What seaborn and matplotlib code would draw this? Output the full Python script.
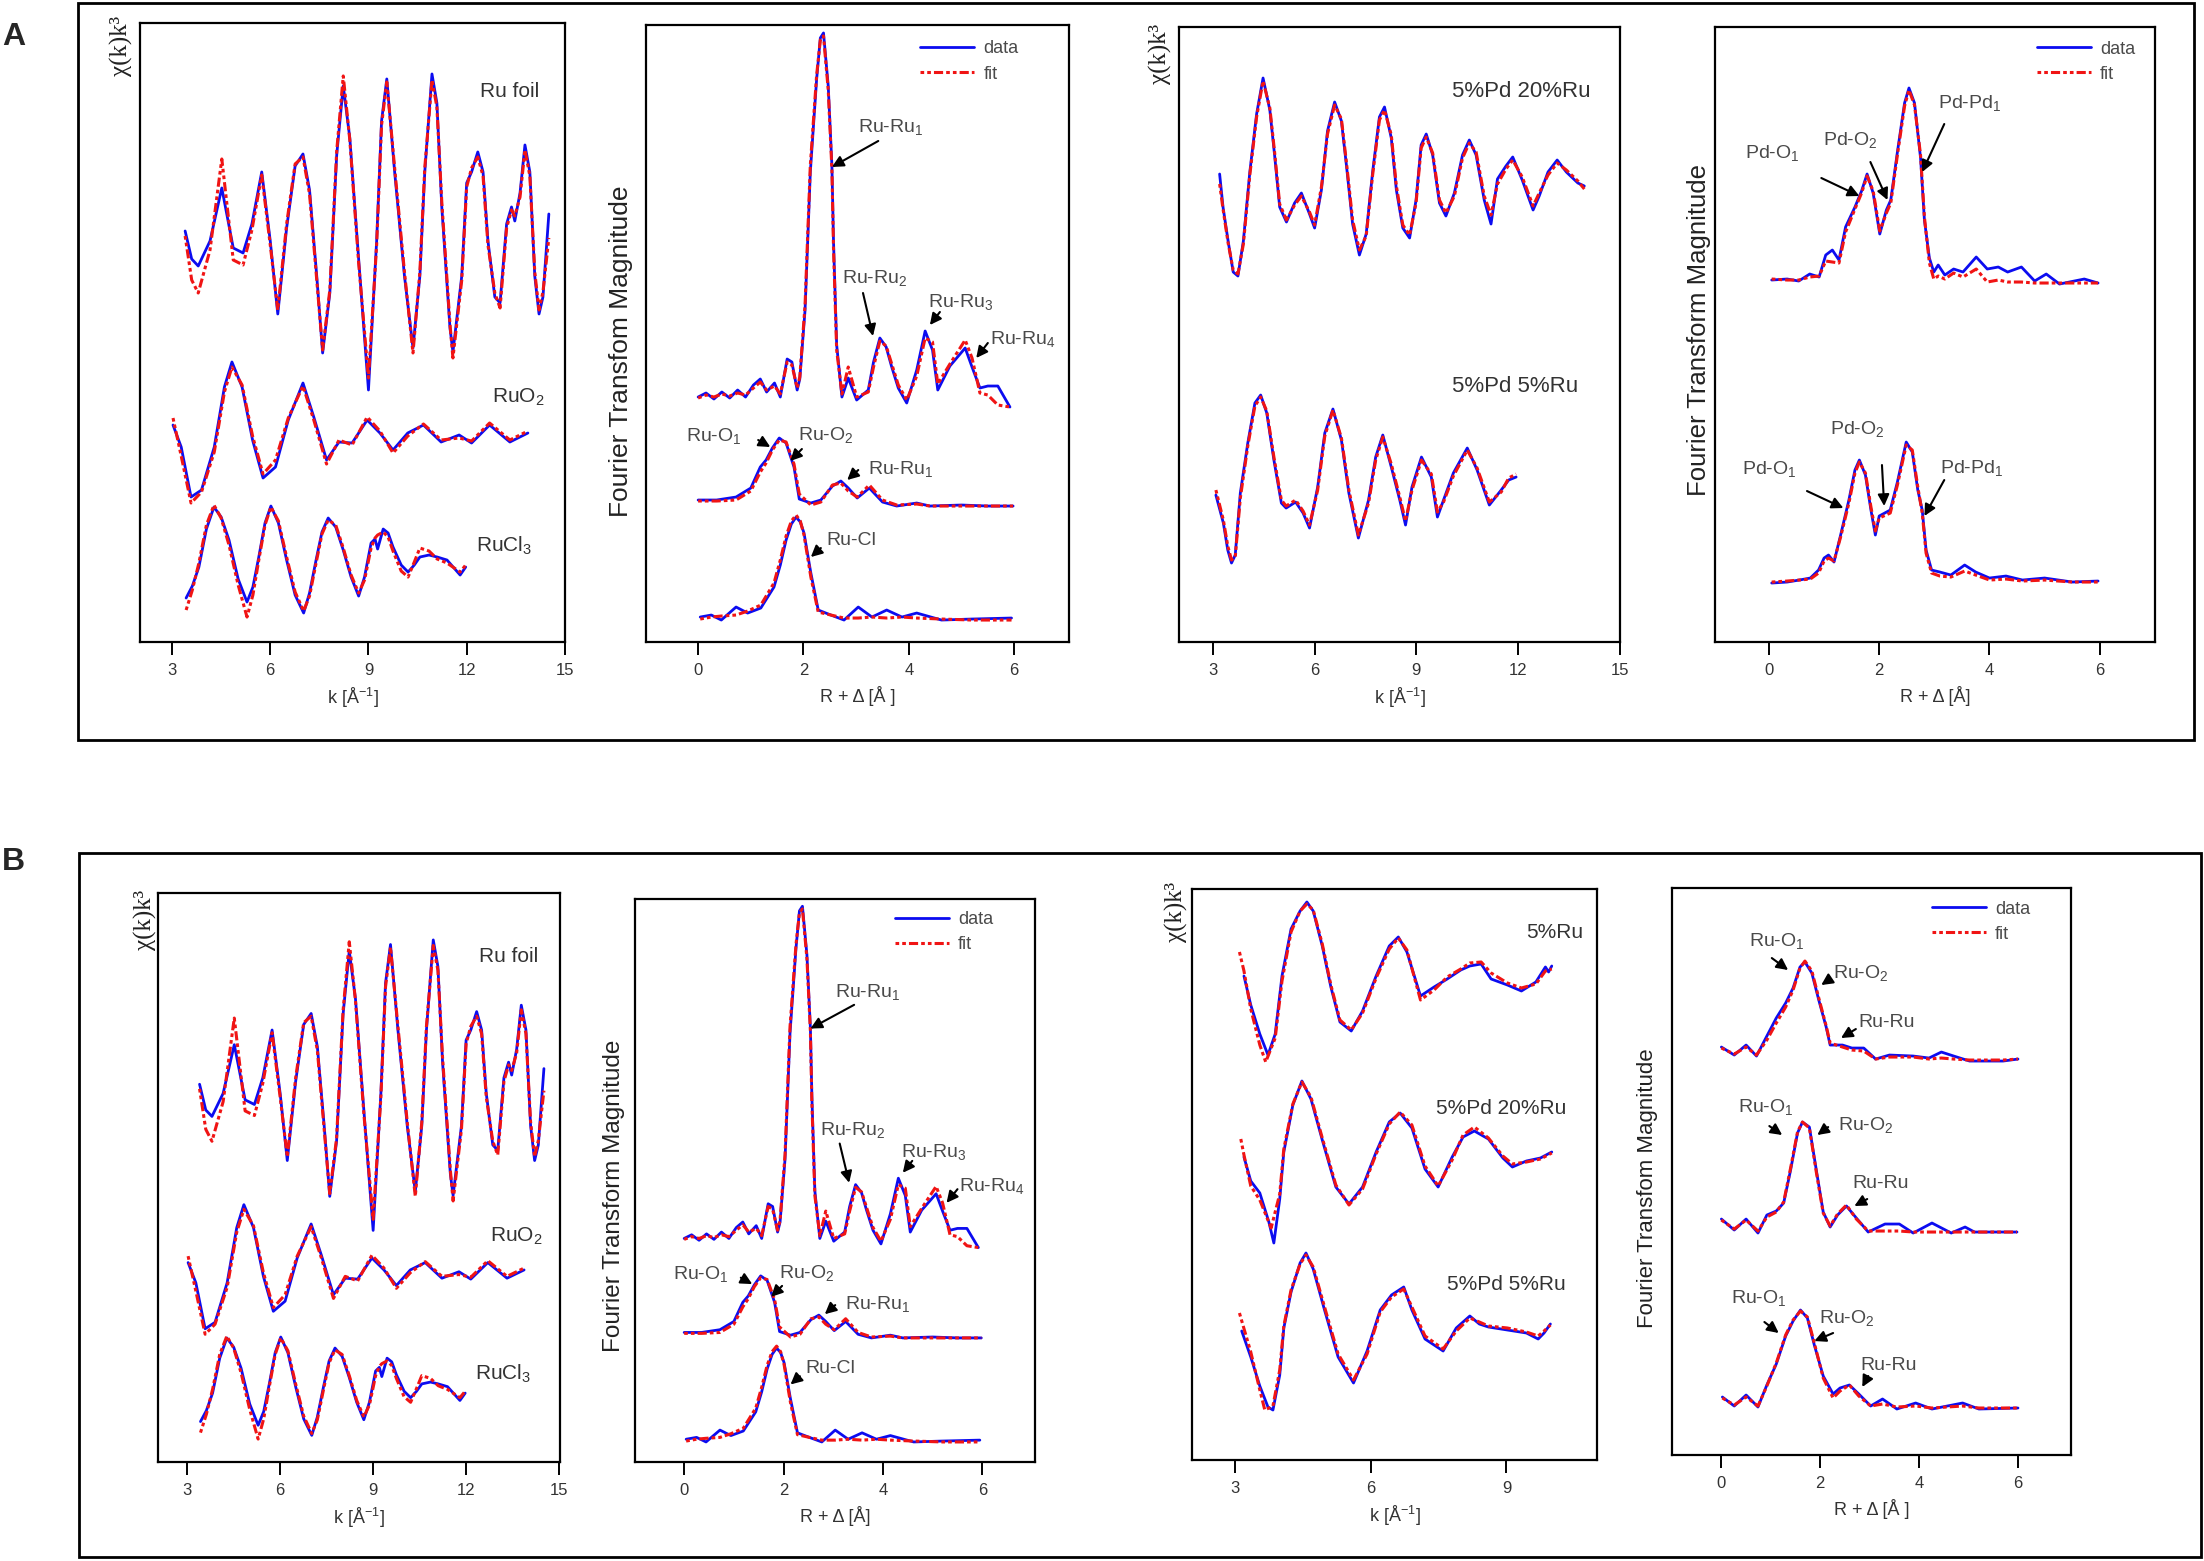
import matplotlib
matplotlib.use("Agg")
import matplotlib.pyplot as plt
from matplotlib.lines import Line2D
from matplotlib.patches import Rectangle
import pandas as pd
import seaborn as sns

# ---------------- Ru K-edge references, k space (chi(k)k^3, arb. units) ----------------
K_FOIL = [3.40, 3.60, 3.80, 4.16, 4.52, 4.87, 5.17, 5.44, 5.74, 6.00, 6.23, 6.50, 6.76, 7.00,
          7.20, 7.42, 7.60, 7.82, 8.03, 8.23, 8.43, 8.70, 9.00, 9.25, 9.40, 9.56, 9.80, 10.10,
          10.36, 10.57, 10.72, 10.94, 11.09, 11.24, 11.49, 11.58, 11.85, 12.00, 12.15, 12.34,
          12.50, 12.65, 12.86, 13.02, 13.22, 13.37, 13.47, 13.63, 13.78, 13.93, 14.08, 14.21,
          14.33, 14.51]
CHI_FOIL = [-0.1, -2.9, -3.6, -1.1, 4.2, -1.8, -2.3, 0.6, 5.8, -1.1, -8.4, 0.2, 6.4, 7.6,
            4.0, -4.6, -12.3, -6.3, 7.5, 14.4, 9.2, -2.9, -16.0, -1.1, 10.9, 15.1, 5.8, -4.6,
            -11.8, -4.6, 5.8, 15.6, 12.7, 2.3, -9.8, -12.2, -4.6, 4.7, 5.8, 7.8,
            5.8, -1.1, -6.7, -7.3, 0.6, 2.3, 0.9, 3.7, 8.5, 5.8, -4.6, -8.4, -6.7, 1.6]
CHI_FOIL_FIT = [-0.6, -5.0, -6.3, -2.0, 7.1, -3.0, -3.5, 0.0, 5.5, -1.5, -8.0, 0.6, 6.6, 7.3,
                3.6, -5.0, -12.0, -6.0, 7.9, 15.4, 9.0, -3.3, -14.8, -1.5, 10.5, 14.8, 6.2, -4.2,
                -12.3, -4.2, 6.2, 15.0, 12.3, 2.8, -9.4, -12.8, -5.0, 4.3, 6.2, 7.3,
                5.4, -1.5, -6.3, -7.8, 0.2, 2.0, 1.4, 3.3, 8.0, 5.4, -4.2, -8.0, -6.2, -0.8]

K_RUO2 = [3.03, 3.28, 3.58, 3.90, 4.29, 4.60, 4.83, 5.14, 5.46, 5.78, 6.16, 6.55, 7.00, 7.33,
          7.72, 8.10, 8.50, 8.96, 9.35, 9.75, 10.20, 10.68, 11.22, 11.77, 12.15, 12.70, 13.32, 13.87]
CHI_RUO2 = [0.5, -1.7, -6.7, -6.0, -1.7, 4.3, 6.8, 4.3, -1.0, -4.8, -3.7, 1.0, 4.7, 1.3,
            -3.0, -1.2, -1.3, 1.0, -0.3, -2.0, -0.3, 0.5, -1.2, -0.5, -1.3, 0.5, -1.2, -0.3]
CHI_RUO2_FIT = [1.2, -2.6, -7.3, -6.2, -2.2, 3.8, 6.3, 4.5, -0.6, -4.4, -3.0, 1.2, 4.4, 1.0,
                -3.4, -1.0, -1.5, 1.3, -0.1, -2.3, -0.6, 0.6, -1.0, -0.8, -1.1, 0.7, -1.0, -0.1]

K_RUCL = [3.43, 3.62, 3.82, 4.05, 4.28, 4.50, 4.74, 5.02, 5.29, 5.47, 5.65, 5.84, 6.02, 6.25,
          6.50, 6.76, 7.02, 7.20, 7.40, 7.58, 7.77, 8.00, 8.23, 8.47, 8.70, 8.88, 9.08, 9.20,
          9.28, 9.45, 9.60, 9.75, 10.00, 10.21, 10.40, 10.57, 10.85, 11.10, 11.40, 11.80, 11.97]
CHI_RUCL = [-4.1, -2.9, -1.0, 2.8, 5.0, 4.0, 1.7, -2.2, -4.5, -3.0, 0.0, 3.4, 5.1, 3.4,
            -0.3, -3.8, -5.6, -3.6, -0.3, 2.5, 3.9, 3.0, 0.7, -2.0, -3.9, -2.0, 1.4, 1.8,
            0.8, 2.8, 2.4, 1.0, -0.8, -1.5, -0.8, 0.0, 0.2, 0.0, -0.3, -1.8, -1.0]
CHI_RUCL_FIT = [-5.3, -3.3, -0.6, 3.2, 5.2, 3.9, 1.2, -2.8, -6.0, -3.8, -0.3, 3.2, 5.0, 3.6,
                0.0, -3.5, -5.4, -3.9, -0.6, 2.3, 3.7, 3.2, 0.9, -1.8, -3.6, -2.3, 0.9, 1.9,
                2.2, 2.5, 2.0, 0.6, -1.4, -2.0, -0.5, 0.9, 0.6, -0.2, -0.6, -1.5, -0.8]

# ---------------- Ru K-edge references, R space (FT magnitude) ----------------
R_FOIL = [0.00, 0.15, 0.30, 0.45, 0.60, 0.75, 0.90, 1.05, 1.18, 1.30, 1.45, 1.56, 1.69, 1.78,
          1.88, 1.93, 2.03, 2.13, 2.25, 2.32, 2.38, 2.47, 2.54, 2.57, 2.63, 2.73, 2.85, 3.01,
          3.23, 3.33, 3.45, 3.57, 3.67, 3.80, 3.96, 4.15, 4.31, 4.45, 4.55, 4.78, 5.07, 5.20,
          5.35, 5.50, 5.69, 5.92]
FT_FOIL = [0.3, 0.7, 0.1, 0.8, 0.2, 1.0, 0.3, 1.5, 2.1, 0.8, 1.7, 0.3, 4.1, 3.8,
           1.0, 2.1, 9.0, 22.8, 32.1, 36.2, 36.7, 31.4, 23.4, 15.9, 5.5, 0.3, 2.2, 0.0,
           1.0, 3.8, 6.2, 5.3, 3.4, 1.2, -0.3, 3.0, 6.9, 5.0, 1.0, 3.4, 5.2, 3.3,
           1.2, 1.4, 1.4, -0.7]
FT_FOIL_FIT = [0.2, 0.5, 0.3, 0.6, 0.4, 0.7, 0.5, 1.2, 1.8, 1.0, 1.4, 0.6, 3.8, 3.5,
               1.2, 2.3, 9.5, 23.5, 32.5, 36.0, 36.4, 31.0, 23.0, 15.2, 5.0, 0.6, 3.3, 0.3,
               0.8, 3.3, 5.9, 5.4, 3.7, 1.5, 0.0, 2.4, 6.2, 5.8, 1.6, 3.6, 6.0, 4.2,
               0.7, 0.5, -0.5, -0.7]

R_RUO2 = [0.00, 0.35, 0.72, 1.00, 1.18, 1.29, 1.41, 1.54, 1.67, 1.82, 1.92, 2.14, 2.33, 2.55,
          2.71, 2.85, 3.02, 3.25, 3.50, 3.77, 4.15, 4.40, 5.00, 5.50, 5.98]
FT_RUO2 = [0.6, 0.6, 0.9, 1.8, 3.9, 4.6, 5.8, 6.8, 6.3, 3.9, 0.7, 0.3, 0.6, 2.0,
           2.5, 1.8, 0.8, 1.8, 0.4, 0.0, 0.3, 0.0, 0.1, 0.0, 0.0]
FT_RUO2_FIT = [0.5, 0.5, 0.6, 1.5, 3.4, 4.3, 5.6, 6.6, 6.4, 4.2, 1.2, 0.1, 0.4, 2.1,
               2.3, 1.5, 0.9, 2.1, 0.6, 0.1, 0.2, 0.0, 0.0, 0.0, 0.0]

R_RUCL = [0.04, 0.25, 0.44, 0.72, 0.94, 1.19, 1.44, 1.56, 1.67, 1.77, 1.86, 1.94, 2.01, 2.14,
          2.28, 2.52, 2.77, 3.04, 3.30, 3.58, 3.87, 4.15, 4.62, 5.20, 5.95]
FT_RUCL = [0.3, 0.5, 0.0, 1.3, 0.7, 1.2, 3.3, 5.5, 8.0, 9.6, 10.3, 9.8, 8.7, 4.7,
           1.0, 0.5, 0.0, 1.3, 0.3, 1.0, 0.3, 0.7, 0.0, 0.1, 0.2]
FT_RUCL_FIT = [0.1, 0.3, 0.4, 0.5, 0.9, 1.5, 3.7, 6.0, 8.4, 9.9, 10.5, 9.9, 8.5, 4.3,
               0.8, 0.5, 0.2, 0.2, 0.3, 0.2, 0.3, 0.2, 0.1, 0.0, 0.0]

# ---------------- Pd K-edge, catalysts (panel A, right) ----------------
K_PD20 = [3.20, 3.30, 3.45, 3.60, 3.74, 3.90, 4.09, 4.29, 4.48, 4.68, 4.82, 4.97, 5.17, 5.41,
          5.61, 5.85, 6.00, 6.20, 6.38, 6.59, 6.79, 6.94, 7.12, 7.32, 7.52, 7.71, 7.91, 8.06,
          8.26, 8.41, 8.60, 8.80, 8.99, 9.14, 9.29, 9.48, 9.68, 9.87, 10.12, 10.36, 10.56,
          10.76, 11.00, 11.20, 11.39, 11.64, 11.84, 12.12, 12.44, 12.62, 12.88, 13.15, 13.42,
          13.76, 13.95]
CHI_PD20 = [1.6, -1.7, -5.1, -8.2, -8.6, -5.1, 1.8, 7.6, 11.2, 8.0, 3.5, -1.7, -3.2, -1.3,
            -0.3, -2.4, -3.8, 0.0, 5.9, 8.8, 6.9, 2.4, -3.4, -6.5, -4.4, 1.8, 7.3, 8.3,
            5.2, 0.0, -3.8, -4.8, -1.0, 4.5, 5.6, 3.5, -1.3, -2.6, -0.3, 3.5, 5.0,
            3.5, -1.0, -3.4, 1.1, 2.4, 3.3, 1.0, -2.0, -0.6, 1.8, 3.0, 1.8, 0.7, 0.4]
CHI_PD20_FIT = [0.6, -1.9, -5.3, -8.0, -8.4, -5.4, 1.5, 7.3, 10.9, 8.2, 3.8, -1.4, -3.0, -1.5,
                -0.6, -2.2, -3.5, 0.3, 5.6, 8.5, 7.1, 2.7, -3.0, -6.0, -4.6, 1.5, 7.0, 8.0,
                5.5, 0.4, -3.5, -4.5, -1.3, 4.2, 5.3, 3.7, -1.0, -2.3, -0.6, 3.2, 4.7,
                3.8, -0.6, -2.5, 0.6, 2.1, 3.0, 1.3, -1.6, -0.3, 1.5, 2.7, 2.0, 0.9, 0.1]

K_PD5 = [3.09, 3.31, 3.44, 3.55, 3.66, 3.81, 4.03, 4.24, 4.41, 4.59, 4.80, 5.02, 5.16, 5.44,
         5.66, 5.85, 6.09, 6.30, 6.54, 6.79, 7.01, 7.29, 7.59, 7.80, 8.01, 8.26, 8.51, 8.68,
         8.87, 9.15, 9.44, 9.62, 9.80, 10.09, 10.50, 10.79, 11.15, 11.50, 11.72, 11.94]
CHI_PD5 = [-1.5, -4.3, -7.0, -8.3, -7.5, -1.3, 3.7, 7.7, 8.5, 6.7, 2.0, -2.3, -2.8, -2.2,
           -3.3, -4.8, -0.7, 4.7, 7.1, 4.0, -1.3, -5.8, -2.0, 2.3, 4.5, 1.3, -2.0, -4.5,
           -0.7, 2.3, 0.3, -3.7, -2.0, 0.7, 3.2, 1.0, -2.5, -1.0, 0.0, 0.3]
CHI_PD5_FIT = [-1.0, -4.0, -6.6, -8.0, -7.7, -1.8, 3.4, 7.4, 8.3, 6.9, 2.3, -2.0, -2.6, -2.0,
               -3.1, -4.5, -1.0, 4.4, 7.0, 4.2, -1.0, -5.5, -2.3, 2.0, 4.3, 1.6, -1.7, -4.1,
               -1.0, 2.0, 0.6, -3.2, -2.2, 0.4, 3.0, 1.2, -2.2, -1.2, 0.2, 0.6]

R_PD20 = [0.05, 0.33, 0.54, 0.74, 0.91, 1.03, 1.15, 1.27, 1.39, 1.56, 1.68, 1.78, 1.89, 2.01,
          2.13, 2.21, 2.33, 2.46, 2.54, 2.64, 2.75, 2.82, 2.91, 2.99, 3.07, 3.19, 3.35, 3.52,
          3.76, 3.96, 4.16, 4.33, 4.58, 4.82, 5.03, 5.27, 5.72, 5.97]
FT_PD20 = [0.3, 0.4, 0.2, 0.9, 0.6, 2.8, 3.3, 2.3, 5.6, 7.6, 9.2, 10.9, 9.0, 4.9,
           7.3, 8.3, 13.1, 18.0, 19.5, 18.0, 12.5, 6.3, 2.5, 1.1, 1.8, 0.8, 1.4, 1.1,
           2.6, 1.4, 1.6, 1.1, 1.6, 0.2, 0.9, -0.1, 0.4, 0.0]
FT_PD20_FIT = [0.4, 0.3, 0.3, 0.6, 0.7, 2.2, 2.1, 2.0, 5.1, 7.4, 9.0, 10.7, 9.2, 5.2,
               7.0, 8.0, 12.8, 17.7, 19.3, 17.8, 12.8, 6.6, 2.0, 0.4, 0.7, 0.4, 1.0, 0.6,
               1.4, 0.1, 0.3, 0.1, 0.1, 0.0, 0.0, 0.0, 0.0, 0.0]

R_PD5 = [0.05, 0.33, 0.55, 0.75, 0.90, 1.00, 1.08, 1.18, 1.30, 1.45, 1.56, 1.64, 1.75, 1.85,
         1.93, 2.00, 2.20, 2.33, 2.49, 2.60, 2.70, 2.78, 2.85, 2.95, 3.10, 3.30, 3.55, 3.75,
         4.00, 4.30, 4.60, 5.00, 5.50, 5.97]
FT_PD5 = [0.0, 0.1, 0.3, 0.5, 1.3, 2.5, 2.8, 2.1, 4.8, 8.3, 11.3, 12.3, 10.8, 7.3,
          4.8, 6.7, 7.3, 10.1, 14.1, 13.1, 9.3, 7.3, 3.3, 1.3, 1.1, 0.8, 1.8, 1.1,
          0.5, 0.7, 0.3, 0.5, 0.1, 0.2]
FT_PD5_FIT = [0.1, 0.2, 0.3, 0.4, 1.0, 2.2, 2.5, 2.2, 4.6, 8.0, 11.0, 12.1, 11.0, 7.6,
              5.2, 6.5, 7.0, 9.8, 13.8, 13.3, 9.6, 7.0, 3.0, 1.0, 0.7, 0.6, 1.2, 0.8,
              0.3, 0.4, 0.2, 0.3, 0.1, 0.1]

# ---------------- Ru K-edge, catalysts (panel B, right) ----------------
K_B_RU = [3.20, 3.35, 3.55, 3.73, 3.89, 4.04, 4.24, 4.44, 4.59, 4.73, 4.93, 5.12, 5.32, 5.57,
          5.82, 6.12, 6.41, 6.61, 6.80, 7.10, 7.40, 7.69, 7.99, 8.19, 8.44, 8.66, 9.02, 9.33,
          9.65, 9.86, 9.93, 10.00]
CHI_B_RU = [-0.1, -3.0, -5.9, -8.0, -5.9, -0.1, 4.6, 6.4, 7.3, 6.4, 2.9, -1.2, -4.7, -5.6,
            -3.6, -0.1, 2.9, 3.8, 2.3, -2.1, -1.2, -0.4, 0.5, 0.9, 1.1, -0.4, -1.0, -1.6,
            -0.7, 0.8, 0.3, 0.9]
K_B_RU_FIT = [3.10, 3.20, 3.35, 3.55, 3.68, 3.89, 4.04, 4.24, 4.44, 4.59, 4.73, 4.93, 5.12, 5.32,
              5.57, 5.82, 6.12, 6.41, 6.61, 6.80, 7.10, 7.40, 7.69, 7.99, 8.19, 8.44, 8.66, 9.02,
              9.33, 9.65, 9.86, 10.00]
CHI_B_RU_FIT = [2.3, 0.4, -3.4, -7.0, -8.7, -6.3, -0.6, 4.3, 6.4, 7.1, 6.5, 3.1, -1.0, -4.5,
                -5.5, -3.8, -0.3, 2.6, 3.7, 2.5, -2.5, -1.5, -0.2, 0.6, 1.2, 1.3, 0.2, -0.8,
                -1.3, -0.9, 0.4, 0.6]

K_B_PD20 = [3.20, 3.35, 3.55, 3.75, 3.86, 3.99, 4.08, 4.28, 4.48, 4.68, 4.93, 5.23, 5.52, 5.82,
            6.12, 6.41, 6.65, 6.91, 7.20, 7.49, 7.80, 8.04, 8.29, 8.60, 8.92, 9.13, 9.44, 9.75,
            10.00]
CHI_B_PD20 = [-0.7, -3.1, -4.3, -7.2, -9.3, -4.9, -0.2, 4.5, 6.9, 5.1, 1.0, -3.7, -5.4, -3.7,
              -0.2, 2.8, 3.7, 2.2, -1.9, -3.7, -0.7, 1.3, 1.9, 1.1, -0.8, -1.7, -1.1, -0.8,
              -0.2]
K_B_PD20_FIT = [3.13, 3.20, 3.35, 3.55, 3.80, 3.99, 4.08, 4.28, 4.48, 4.68, 4.93, 5.23, 5.52,
                5.82, 6.12, 6.41, 6.65, 6.91, 7.20, 7.49, 7.80, 8.04, 8.29, 8.60, 8.92, 9.13,
                9.44, 9.75, 10.00]
CHI_B_PD20_FIT = [1.1, -0.5, -3.6, -5.0, -7.8, -4.4, 0.1, 4.6, 6.8, 5.3, 1.2, -3.5, -5.5,
                  -3.9, -0.4, 2.6, 3.8, 2.5, -1.6, -3.6, -1.0, 1.5, 2.3, 1.2, -0.6, -1.4,
                  -1.2, -0.9, -0.3]

K_B_PD5 = [3.15, 3.35, 3.55, 3.73, 3.84, 3.99, 4.08, 4.24, 4.44, 4.57, 4.73, 4.98, 5.28, 5.62,
           5.92, 6.21, 6.46, 6.73, 6.91, 7.20, 7.60, 7.89, 8.19, 8.40, 8.60, 9.02, 9.44, 9.70,
           9.83, 9.97]
CHI_B_PD5 = [-0.1, -2.7, -5.6, -7.7, -8.0, -4.5, 0.2, 3.8, 6.7, 7.7, 6.1, 2.0, -2.7, -5.3,
             -2.1, 2.0, 3.5, 4.3, 2.0, -0.9, -2.1, 0.2, 1.4, 0.6, 0.3, 0.0, -0.3, -0.9,
             -0.3, 0.6]
K_B_PD5_FIT = [3.10, 3.35, 3.55, 3.66, 3.84, 3.99, 4.08, 4.24, 4.44, 4.57, 4.73, 4.98, 5.28,
               5.62, 5.92, 6.21, 6.46, 6.73, 6.91, 7.20, 7.60, 7.89, 8.19, 8.40, 8.60, 9.02,
               9.44, 9.70, 9.83, 9.97]
CHI_B_PD5_FIT = [1.7, -2.2, -6.0, -8.0, -7.6, -4.0, 0.4, 4.0, 6.6, 7.5, 6.3, 2.3, -2.4, -5.0,
                 -2.4, 1.8, 3.3, 4.1, 2.3, -0.6, -1.9, -0.1, 1.2, 0.8, 0.4, 0.2, -0.2, -0.6,
                 -0.1, 0.5]

R_B_RU = [0.00, 0.26, 0.50, 0.71, 0.92, 1.11, 1.30, 1.45, 1.59, 1.69, 1.83, 1.97, 2.12, 2.20,
          2.45, 2.64, 2.88, 3.12, 3.40, 3.88, 4.20, 4.45, 4.70, 5.02, 5.70, 6.00]
FT_B_RU = [1.3, 0.5, 1.5, 0.4, 2.4, 4.2, 5.7, 7.2, 9.3, 9.8, 8.7, 6.0, 3.3, 1.5,
           1.5, 1.2, 1.2, 0.1, 0.5, 0.4, 0.2, 0.8, 0.4, -0.1, -0.1, 0.1]
FT_B_RU_FIT = [1.2, 0.6, 1.3, 0.5, 2.0, 3.7, 5.3, 7.0, 9.2, 9.9, 8.9, 6.2, 3.4, 1.7,
               1.3, 1.0, 0.9, 0.1, 0.3, 0.3, 0.1, 0.2, 0.1, 0.0, 0.0, 0.1]

R_B_PD20 = [0.00, 0.26, 0.50, 0.74, 0.92, 1.11, 1.26, 1.40, 1.54, 1.64, 1.78, 1.92, 2.06, 2.20,
            2.35, 2.53, 2.73, 2.97, 3.31, 3.60, 3.88, 4.26, 4.65, 4.93, 5.12, 5.98]
FT_B_PD20 = [1.3, 0.2, 1.3, -0.1, 1.7, 2.1, 2.9, 6.2, 9.9, 11.0, 10.5, 6.2, 2.0, 0.5,
             1.7, 2.6, 1.4, 0.0, 0.8, 0.8, -0.1, 0.9, -0.1, 0.5, 0.0, 0.0]
FT_B_PD20_FIT = [1.2, 0.3, 1.2, 0.1, 1.5, 2.0, 3.0, 6.4, 10.0, 11.0, 10.4, 6.0, 1.9, 0.6,
                 1.8, 2.7, 1.3, 0.1, 0.1, 0.1, 0.0, 0.0, 0.0, 0.0, 0.0, 0.0]

R_B_PD5 = [0.02, 0.26, 0.50, 0.74, 0.92, 1.11, 1.30, 1.45, 1.60, 1.74, 1.88, 2.06, 2.26, 2.40,
           2.59, 2.78, 3.02, 3.26, 3.55, 3.93, 4.26, 4.88, 5.21, 6.00]
FT_B_PD5 = [1.1, 0.2, 1.3, 0.1, 2.3, 4.4, 7.2, 8.7, 9.8, 9.0, 6.3, 3.2, 1.4, 2.0,
            2.3, 1.4, 0.2, 0.9, -0.1, 0.5, -0.1, 0.5, -0.1, 0.0]
FT_B_PD5_FIT = [1.0, 0.3, 1.1, 0.2, 2.2, 4.5, 7.3, 8.8, 9.7, 9.1, 6.5, 3.0, 1.0, 1.7,
                2.3, 1.2, 0.2, 0.4, 0.1, 0.2, 0.0, 0.2, 0.0, 0.0]

K_TICKS = [3, 6, 9, 12, 15]
K_TICKS_SHORT = [3, 6, 9]
R_TICKS = [0, 2, 4, 6]

# ---------------------------------------------------------------------------
sns.set_style("white")
plt.rcParams["font.family"] = ["Liberation Sans", "DejaVu Sans"]
plt.rcParams["mathtext.fontset"] = "custom"
plt.rcParams["mathtext.rm"] = "Liberation Sans"
plt.rcParams["mathtext.it"] = "Liberation Sans:italic"

DATA_C = "#0c0cf0"
FIT_C = "#f01414"
FIT_LS = (0, (1.2, 1.0, 1.2, 1.0, 3.0, 1.0))
TXT_C = "#4a4a4a"

fig = plt.figure(figsize=(22.04, 15.61), dpi=100)


def draw_panel(rect, xlim, ylim, ticks, curves, xlabel):
    ax = fig.add_axes(rect)
    for x, y, xf, yf, off in curves:
        d = pd.DataFrame({"x": x, "y": [v + off for v in y]})
        f = pd.DataFrame({"x": xf, "y": [v + off for v in yf]})
        sns.lineplot(data=d, x="x", y="y", ax=ax, color=DATA_C, linewidth=2.0,
                     sort=False, estimator=None, legend=False)
        sns.lineplot(data=f, x="x", y="y", ax=ax, color=FIT_C, linewidth=2.2,
                     linestyle=FIT_LS, sort=False, estimator=None, legend=False)
    ax.set_xlim(*xlim)
    ax.set_ylim(*ylim)
    ax.set_xticks(ticks)
    ax.set_yticks([])
    ax.set_ylabel("")
    ax.set_xlabel(xlabel, fontsize=13, color="#333333", labelpad=6)
    for s in ax.spines.values():
        s.set_visible(True)
        s.set_color("black")
        s.set_linewidth(1.6)
    ax.tick_params(axis="x", bottom=True, direction="out", length=9, width=1.4, pad=6,
                   labelsize=12, labelcolor="#333333", color="black")
    ax.tick_params(axis="y", left=False, labelleft=False)
    return ax


def chi_label(ax, x, y):
    ax.text(x, y, "χ(k)k³", transform=ax.transAxes, rotation=90, ha="right", va="top",
            fontsize=18, family=["Liberation Serif", "DejaVu Serif"], color="#222222")


def ft_label(ax, x, y, text, size, family=("Liberation Sans", "DejaVu Sans")):
    ax.text(x, y, text, transform=ax.transAxes, rotation=90, ha="right", va="center",
            fontsize=size, family=list(family), color="#222222")


def add_legend(ax, x, y):
    handles = [Line2D([], [], color=DATA_C, lw=2.0),
               Line2D([], [], color=FIT_C, lw=2.2, linestyle=FIT_LS)]
    leg = ax.legend(handles, ["data", "fit"], loc="upper left", bbox_to_anchor=(x, y),
                    frameon=False, fontsize=13, handlelength=3.0, handletextpad=0.5,
                    labelspacing=0.45, borderaxespad=0, borderpad=0)
    for t in leg.get_texts():
        t.set_color(TXT_C)


def annotate(ax, items):
    for text, tpos, tail, head in items:
        ax.text(tpos[0], tpos[1], text, fontsize=14, color=TXT_C, ha="left", va="center")
        ax.annotate("", xy=head, xytext=tail,
                    arrowprops=dict(arrowstyle="-|>", color="black", lw=1.5,
                                    mutation_scale=17, shrinkA=0, shrinkB=0))


def curve_labels(ax, items, size=15):
    for text, x, y in items:
        ax.text(x, y, text, fontsize=size, color="#333333", ha="left", va="center")


ref_k = [(K_FOIL, CHI_FOIL, K_FOIL, CHI_FOIL_FIT, 41.2),
         (K_RUO2, CHI_RUO2, K_RUO2, CHI_RUO2_FIT, 21.2),
         (K_RUCL, CHI_RUCL, K_RUCL, CHI_RUCL_FIT, 8.5)]
ref_r = [(R_FOIL, FT_FOIL, R_FOIL, FT_FOIL_FIT, 24.2),
         (R_RUO2, FT_RUO2, R_RUO2, FT_RUO2_FIT, 13.6),
         (R_RUCL, FT_RUCL, R_RUCL, FT_RUCL_FIT, 2.2)]
ref_k_labels = [("Ru foil", 12.4, 55.0), ("RuO$_2$", 12.77, 24.5), ("RuCl$_3$", 12.28, 9.6)]
ref_r_ann = [
    ("Ru-Ru$_1$", (3.04, 51.5), (3.42, 50.1), (2.54, 47.5)),
    ("Ru-Ru$_2$", (2.73, 36.4), (3.13, 34.9), (3.32, 30.6)),
    ("Ru-Ru$_3$", (4.36, 34.0), (4.59, 33.0), (4.40, 31.7)),
    ("Ru-Ru$_4$", (5.54, 30.3), (5.50, 29.9), (5.28, 28.4)),
    ("Ru-O$_1$", (-0.23, 20.6), (1.14, 20.2), (1.37, 19.5)),
    ("Ru-O$_2$", (1.90, 20.7), (1.97, 19.3), (1.75, 18.1)),
    ("Ru-Ru$_1$", (3.23, 17.3), (3.04, 17.2), (2.83, 16.2)),
    ("Ru-Cl", (2.43, 10.2), (2.33, 9.4), (2.14, 8.5)),
]

# ----------------------------- panel A --------------------------------------
a1 = draw_panel([0.0635, 0.5887, 0.1928, 0.3966], (2.02, 15.0), (0, 61.9), K_TICKS, ref_k,
                "k [Å$^{-1}$]")
chi_label(a1, -0.016, 1.012)
curve_labels(a1, ref_k_labels)

a2 = draw_panel([0.2931, 0.5887, 0.1919, 0.3953], (-0.99, 7.04), (0, 61.7), R_TICKS, ref_r,
                "R + Δ [Å ]")
ft_label(a2, -0.031, 0.472, "Fourier Transfom Magnitude", 19)
add_legend(a2, 0.648, 0.975)
annotate(a2, ref_r_ann)

a3 = draw_panel([0.5349, 0.5887, 0.2001, 0.3940], (2.0, 15.0), (0, 61.5), K_TICKS,
                [(K_PD20, CHI_PD20, K_PD20, CHI_PD20_FIT, 45.2),
                 (K_PD5, CHI_PD5, K_PD5, CHI_PD5_FIT, 16.2)],
                "k [Å$^{-1}$]")
chi_label(a3, -0.016, 1.005)
curve_labels(a3, [("5%Pd 20%Ru", 10.06, 55.1), ("5%Pd 5%Ru", 10.06, 25.6)], size=16)

a4 = draw_panel([0.7781, 0.5887, 0.1996, 0.3940], (-0.98, 7.0), (0, 61.5), R_TICKS,
                [(R_PD20, FT_PD20, R_PD20, FT_PD20_FIT, 35.9),
                 (R_PD5, FT_PD5, R_PD5, FT_PD5_FIT, 5.9)],
                "R + Δ [Å]")
ft_label(a4, -0.009, 0.507, "Fourier Transform Magnitude", 18.5)
add_legend(a4, 0.732, 0.978)
annotate(a4, [
    ("Pd-O$_1$", (-0.44, 48.9), (0.95, 46.4), (1.64, 44.6)),
    ("Pd-O$_2$", (0.98, 50.2), (1.84, 48.0), (2.15, 44.2)),
    ("Pd-Pd$_1$", (3.07, 53.9), (3.18, 51.8), (2.78, 47.0)),
    ("Pd-O$_2$", (1.11, 21.3), (2.05, 17.7), (2.09, 13.6)),
    ("Pd-O$_1$", (-0.49, 17.3), (0.69, 15.1), (1.35, 13.4)),
    ("Pd-Pd$_1$", (3.11, 17.4), (3.18, 16.2), (2.82, 12.6)),
])

# ----------------------------- panel B --------------------------------------
b1 = draw_panel([0.0717, 0.0634, 0.1824, 0.3645], (2.06, 15.03), (0, 61.9), K_TICKS, ref_k,
                "k [Å$^{-1}$]")
chi_label(b1, -0.003, 1.005)
curve_labels(b1, ref_k_labels)

b2 = draw_panel([0.2881, 0.0634, 0.1815, 0.3607], (-0.99, 7.06), (0, 61.7), R_TICKS, ref_r,
                "R + Δ [Å]")
ft_label(b2, -0.025, 0.472, "Fourier Transform Magnitude", 17.5)
add_legend(b2, 0.65, 0.978)
annotate(b2, ref_r_ann)

b3 = draw_panel([0.5408, 0.0647, 0.1838, 0.3658], (2.05, 11.0), (0, 57.1), K_TICKS_SHORT,
                [(K_B_RU, CHI_B_RU, K_B_RU_FIT, CHI_B_RU_FIT, 48.5),
                 (K_B_PD20, CHI_B_PD20, K_B_PD20_FIT, CHI_B_PD20_FIT, 31.0),
                 (K_B_PD5, CHI_B_PD5, K_B_PD5_FIT, CHI_B_PD5_FIT, 13.0)],
                "k [Å$^{-1}$]")
chi_label(b3, -0.01, 1.012)
curve_labels(b3, [("5%Ru", 9.44, 52.7), ("5%Pd 20%Ru", 7.45, 35.1), ("5%Pd 5%Ru", 7.69, 17.5)])

b4 = draw_panel([0.7586, 0.0679, 0.1810, 0.3632], (-1.0, 7.07), (0, 56.7), R_TICKS,
                [(R_B_RU, FT_B_RU, R_B_RU, FT_B_RU_FIT, 39.5),
                 (R_B_PD20, FT_B_PD20, R_B_PD20, FT_B_PD20_FIT, 22.3),
                 (R_B_PD5, FT_B_PD5, R_B_PD5, FT_B_PD5_FIT, 4.7)],
                "R + Δ [Å ]")
ft_label(b4, -0.035, 0.471, "Fourier Transfom Magnitude", 16,
         family=("Liberation Sans Narrow", "Liberation Sans", "DejaVu Sans"))
add_legend(b4, 0.652, 0.978)
annotate(b4, [
    ("Ru-O$_1$", (0.55, 51.4), (1.02, 49.7), (1.35, 48.5)),
    ("Ru-O$_2$", (2.26, 48.2), (2.20, 47.6), (2.02, 47.0)),
    ("Ru-Ru", (2.77, 43.3), (2.72, 42.6), (2.42, 41.7)),
    ("Ru-O$_1$", (0.34, 34.8), (0.97, 32.9), (1.23, 32.0)),
    ("Ru-O$_2$", (2.35, 33.0), (2.16, 32.8), (1.94, 32.0)),
    ("Ru-Ru", (2.65, 27.2), (2.95, 25.6), (2.69, 24.9)),
    ("Ru-O$_1$", (0.20, 15.7), (0.87, 13.3), (1.16, 12.2)),
    ("Ru-O$_2$", (1.98, 13.7), (2.26, 12.2), (1.88, 11.4)),
    ("Ru-Ru", (2.81, 9.0), (2.97, 7.9), (2.85, 6.8)),
])

# frames and panel letters
fig.add_artist(Rectangle((0.0354, 0.526), 0.960, 0.472, transform=fig.transFigure,
                         fill=False, lw=2.0, ec="black"))
fig.add_artist(Rectangle((0.0358, 0.0026), 0.9628, 0.451, transform=fig.transFigure,
                         fill=False, lw=2.0, ec="black"))
fig.text(0.001, 1 - 37 / 1561, "A", fontsize=23, weight="bold", ha="left", va="center")
fig.text(0.001, 1 - 862 / 1561, "B", fontsize=23, weight="bold", ha="left", va="center")

fig.savefig("out.png", dpi=100)
